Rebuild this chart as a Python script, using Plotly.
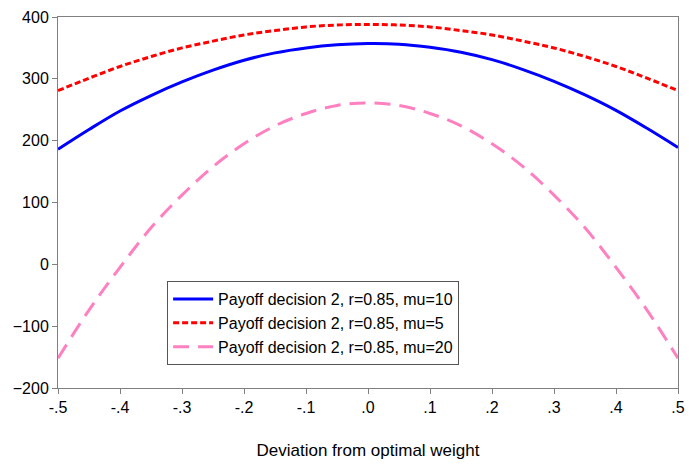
import plotly.graph_objects as go

x_vals = [-0.5, -0.45, -0.4, -0.35, -0.3, -0.25, -0.2, -0.15, -0.1, -0.05, 0.0,
          0.05, 0.1, 0.15, 0.2, 0.25, 0.3, 0.35, 0.4, 0.45, 0.5]
mu10 = [186, 218, 248, 273, 295, 314, 330, 342, 350, 355, 357,
        356, 351, 343, 331, 315, 296, 274, 249, 220, 189]
mu5 = [281, 301, 320, 336, 350, 361, 371, 378, 384, 387, 388,
       387, 384, 378, 371, 361, 350, 336, 320, 301, 281]
mu20 = [-152, -74, -5, 59, 112, 158, 195, 224, 244, 257, 261,
        257, 244, 224, 195, 158, 112, 59, -5, -74, -152]
names = ["Payoff decision 2, r=0.85, mu=10",
         "Payoff decision 2, r=0.85, mu=5",
         "Payoff decision 2, r=0.85, mu=20"]
x_ticks = [-0.5, -0.4, -0.3, -0.2, -0.1, 0.0, 0.1, 0.2, 0.3, 0.4, 0.5]
x_ticklabels = ["-.5", "-.4", "-.3", "-.2", "-.1", ".0", ".1", ".2", ".3", ".4", ".5"]
y_ticks = [-200, -100, 0, 100, 200, 300, 400]

fig = go.Figure()
fig.add_trace(go.Scatter(x=x_vals, y=mu10, name=names[0], mode="lines",
                         line=dict(color="#0000FF", width=3, shape="spline")))
fig.add_trace(go.Scatter(x=x_vals, y=mu5, name=names[1], mode="lines",
                         line=dict(color="#FF0000", width=3, dash="6px,3px", shape="spline")))
fig.add_trace(go.Scatter(x=x_vals, y=mu20, name=names[2], mode="lines",
                         line=dict(color="#FF80C0", width=3, dash="16px,9px", shape="spline")))

fig.update_layout(
    width=689, height=466,
    margin=dict(l=58, r=11, t=17, b=78),
    paper_bgcolor="white", plot_bgcolor="white",
    font=dict(family="Liberation Sans, Arial, sans-serif", size=16, color="black"),
    showlegend=True,
    legend=dict(x=0.176, y=0.288, xanchor="left", yanchor="top",
                bordercolor="#555555", borderwidth=1, bgcolor="white",
                font=dict(size=16), tracegroupgap=0, itemwidth=40),
)
fig.update_xaxes(range=[-0.5, 0.5], tickvals=x_ticks, ticktext=x_ticklabels,
                 automargin=False,
                 showgrid=False, zeroline=False, showline=True, linecolor="#808080",
                 linewidth=1, mirror=True, ticks="outside", ticklen=5, tickcolor="#808080",
                 title=dict(text="Deviation from optimal weight", standoff=28,
                            font=dict(size=17)))
fig.update_yaxes(range=[-200, 400], tickvals=y_ticks, automargin=False,
                 showgrid=False, zeroline=False, showline=True, linecolor="#808080",
                 linewidth=1, mirror=True, ticks="outside", ticklen=5, tickcolor="#808080")

fig.write_html("out.html", config={"displayModeBar": False},
               post_script="document.body.style.margin='0';")
